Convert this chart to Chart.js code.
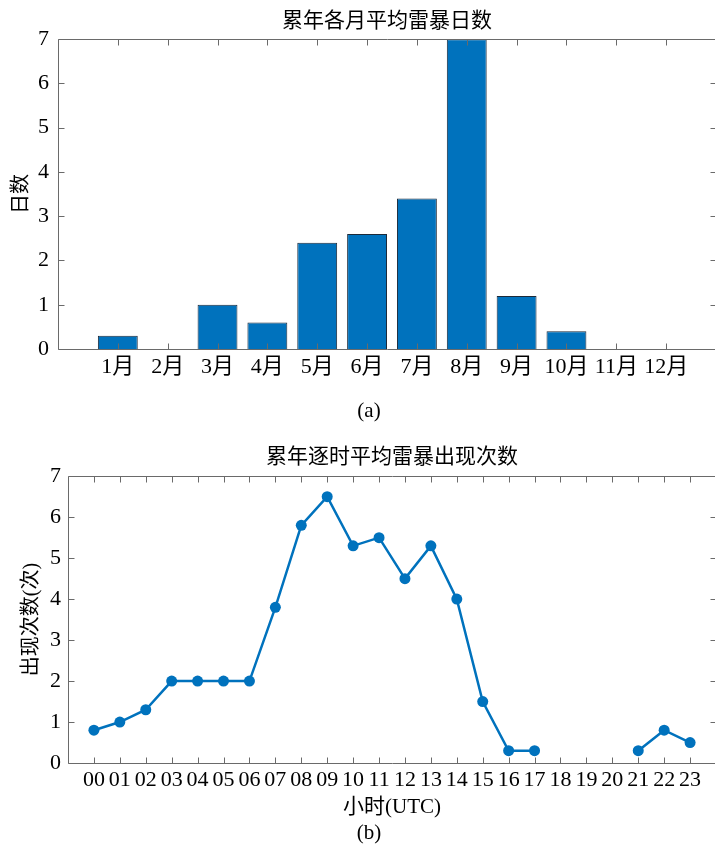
<!DOCTYPE html>
<html>
<head>
<meta charset="utf-8">
<script src="https://cdn.jsdelivr.net/npm/chart.js@4.4.0/dist/chart.umd.min.js"></script>
<style>
  html, body { margin: 0; padding: 0; background: #fff; }
  body { width: 715px; height: 851px; overflow: hidden; position: relative; }
  canvas { position: absolute; left: 0; }
  #chartA { top: 0; }
  #chartB { top: 430px; }
  .cap { position: absolute; font: 21px 'Liberation Serif', 'Times New Roman', serif; color: #000;
         transform: translate(-50%, -50%); white-space: nowrap; }
</style>
</head>
<body>
<canvas id="chartA" width="722" height="400"></canvas>
<canvas id="chartB" width="722" height="392"></canvas>
<div class="cap" style="left:369px; top:410px;">(a)</div>
<div class="cap" style="left:369px; top:832px;">(b)</div>
<script>
// --- DATA ---
const monthLabels = ['1月', '2月', '3月', '4月', '5月', '6月', '7月', '8月', '9月', '10月', '11月', '12月'];
const monthDays = [0.3, 0, 1.0, 0.6, 2.4, 2.6, 3.4, 7.0, 1.2, 0.4, 0, 0];

const hourLabels = ['00', '01', '02', '03', '04', '05', '06', '07', '08', '09', '10', '11',
                    '12', '13', '14', '15', '16', '17', '18', '19', '20', '21', '22', '23'];
const hourCounts = [0.8, 1.0, 1.3, 2.0, 2.0, 2.0, 2.0, 3.8, 5.8, 6.5, 5.3, 5.5,
                    4.5, 5.3, 4.0, 1.5, 0.3, 0.3, null, null, null, 0.3, 0.8, 0.5];

const yTicks = [0, 1, 2, 3, 4, 5, 6, 7];

// --- STYLE ---
const BLUE = '#0072BD';
const AXIS = '#6a6a6a';
const SERIF = "'Liberation Serif', 'Times New Roman', 'Noto Sans CJK SC', serif";
const TICK_LEN = 6;

// MATLAB-like box with inward ticks on all sides
const boxPlugin = {
    id: 'box',
    afterDatasetsDraw(chart) {
        const { ctx, chartArea: a, scales: { x, y } } = chart;
        ctx.save();
        ctx.strokeStyle = AXIS;
        ctx.lineWidth = 1;
        ctx.beginPath();
        const L = Math.round(a.left) + 0.5, R = Math.round(a.right) + 0.5;
        const T = Math.round(a.top) + 0.5, B = Math.round(a.bottom) + 0.5;
        ctx.moveTo(R, T); ctx.lineTo(L, T); ctx.lineTo(L, B); ctx.lineTo(R, B); ctx.lineTo(R, T);
        x.ticks.forEach(t => {
            const px = Math.round(x.getPixelForValue(t.value)) + 0.5;
            ctx.moveTo(px, B); ctx.lineTo(px, B - TICK_LEN);
            ctx.moveTo(px, T); ctx.lineTo(px, T + TICK_LEN);
        });
        y.ticks.forEach(t => {
            const py = Math.round(y.getPixelForValue(t.value)) + 0.5;
            ctx.moveTo(L, py); ctx.lineTo(L + TICK_LEN, py);
            ctx.moveTo(R, py); ctx.lineTo(R - TICK_LEN, py);
        });
        ctx.stroke();
        ctx.restore();
    }
};

function yAxis(title, width, titlePad, tickPad) {
    return {
        type: 'linear', min: 0, max: 7,
        afterBuildTicks: s => { s.ticks = yTicks.map(v => ({ value: v })); },
        afterFit: s => { s.width = width; },
        grid: { display: false, drawTicks: false },
        border: { display: false },
        ticks: { color: '#000', padding: tickPad, font: { family: SERIF, size: 22 } },
        title: { display: true, text: title, color: '#000', padding: titlePad,
                 font: { family: SERIF, size: 20 } }
    };
}

// --- CHART (a): monthly bars ---
new Chart(document.getElementById('chartA'), {
    type: 'bar',
    data: {
        datasets: [{
            data: monthDays.map((v, i) => ({ x: i + 1, y: v })),
            backgroundColor: BLUE,
            borderColor: '#1c2a3a',
            borderWidth: 1,
            barPercentage: 0.8,
            categoryPercentage: 1.0
        }]
    },
    options: {
        responsive: false,
        animation: false,
        layout: { padding: { right: 6, bottom: 0 } },
        plugins: {
            legend: { display: false },
            tooltip: { enabled: false },
            title: { display: true, text: '累年各月平均雷暴日数', color: '#000', fullSize: false,
                     padding: { top: 9, bottom: 5 }, font: { family: SERIF, size: 21, weight: 'normal' } }
        },
        scales: {
            x: {
                type: 'linear', min: -0.2, max: 13, offset: false,
                afterBuildTicks: s => { s.ticks = monthLabels.map((_, i) => ({ value: i + 1 })); },
                afterFit: s => { s.height = 51; },
                grid: { display: false, drawTicks: false, offset: false },
                border: { display: false },
                ticks: { color: '#000', padding: 5, maxRotation: 0, autoSkip: false,
                         font: { family: SERIF, size: 22 },
                         callback: v => monthLabels[v - 1] }
            },
            y: yAxis('日数', 58, 10, 9)
        }
    },
    plugins: [boxPlugin]
});

// --- CHART (b): hourly line ---
new Chart(document.getElementById('chartB'), {
    type: 'line',
    data: {
        datasets: [{
            data: hourCounts.map((v, i) => ({ x: i, y: v })),
            borderColor: BLUE,
            backgroundColor: BLUE,
            borderWidth: 2.5,
            pointRadius: 5.5,
            pointBorderWidth: 0,
            pointBackgroundColor: BLUE,
            spanGaps: false,
            tension: 0
        }]
    },
    options: {
        responsive: false,
        animation: false,
        layout: { padding: { right: 6, bottom: 0 } },
        plugins: {
            legend: { display: false },
            tooltip: { enabled: false },
            title: { display: true, text: '累年逐时平均雷暴出现次数', color: '#000', fullSize: false,
                     padding: { top: 15, bottom: 6 }, font: { family: SERIF, size: 21, weight: 'normal' } }
        },
        scales: {
            x: {
                type: 'linear', min: -1, max: 24, offset: false,
                afterBuildTicks: s => { s.ticks = hourLabels.map((_, i) => ({ value: i })); },
                afterFit: s => { s.height = 59; },
                grid: { display: false, drawTicks: false },
                border: { display: false },
                ticks: { color: '#000', padding: 4, maxRotation: 0, autoSkip: false,
                         font: { family: SERIF, size: 22 },
                         callback: v => hourLabels[v] },
                title: { display: true, text: '小时(UTC)', color: '#000', padding: { top: 0, bottom: 2 },
                         font: { family: SERIF, size: 21 } }
            },
            y: yAxis('出现次数(次)', 68, 20, 7)
        }
    },
    plugins: [boxPlugin]
});
</script>
</body>
</html>
